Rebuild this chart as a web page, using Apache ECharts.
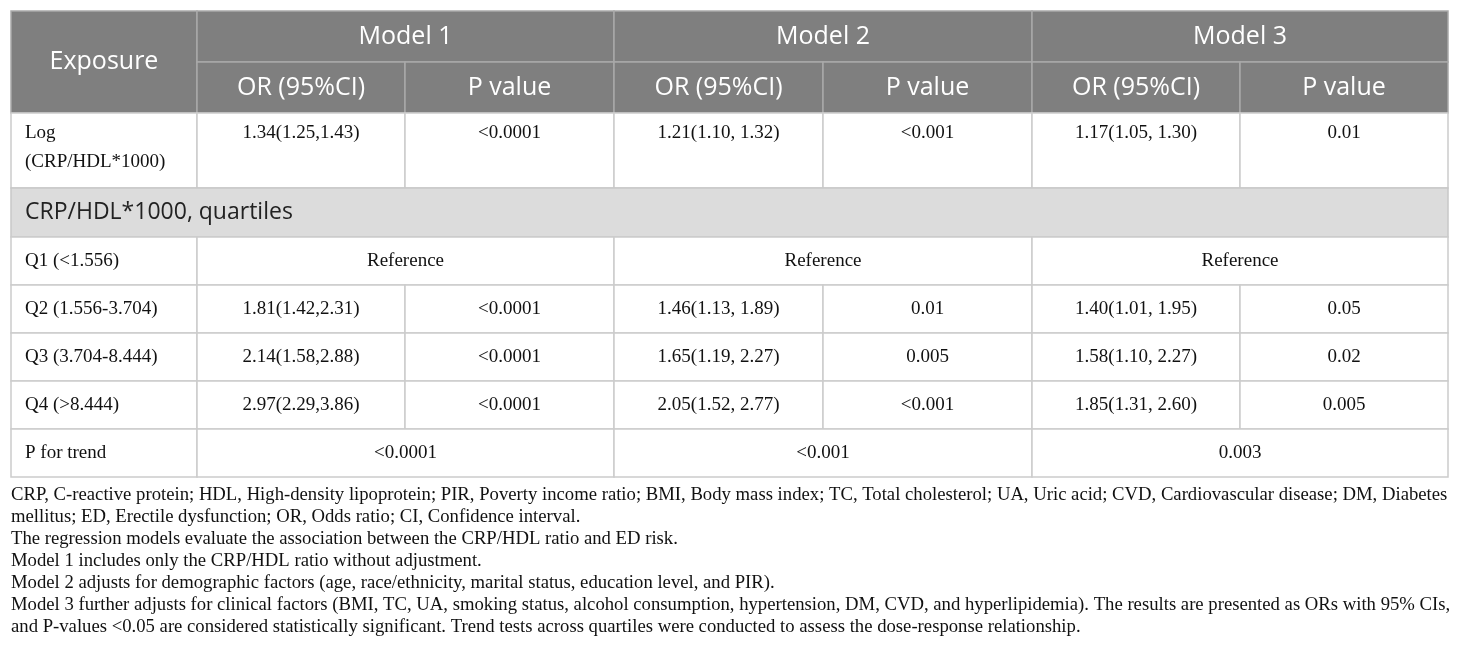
<!DOCTYPE html>
<html>
<head>
<meta charset="utf-8">
<script src="https://cdn.jsdelivr.net/npm/echarts@6/dist/echarts.min.js"></script>
<style>html,body{margin:0;padding:0;background:#fff;}#c{width:1460px;height:664px;}</style>
</head>
<body>
<div id="c"></div>
<script>
// ---------- DATA ----------
const exposureHeader = 'Exposure';
const models = ['Model 1', 'Model 2', 'Model 3'];
const subHeaders = ['OR (95%CI)', 'P value'];
const logLabel = 'Log\n(CRP/HDL*1000)';
const logOR = ['1.34(1.25,1.43)', '1.21(1.10, 1.32)', '1.17(1.05, 1.30)'];
const logP = ['<0.0001', '<0.001', '0.01'];
const sectionTitle = 'CRP/HDL*1000, quartiles';
const quartileLabels = ['Q1 (<1.556)', 'Q2 (1.556-3.704)', 'Q3 (3.704-8.444)', 'Q4 (>8.444)'];
const referenceText = 'Reference';
const quartileOR = [
  ['1.81(1.42,2.31)', '2.14(1.58,2.88)', '2.97(2.29,3.86)'],
  ['1.46(1.13, 1.89)', '1.65(1.19, 2.27)', '2.05(1.52, 2.77)'],
  ['1.40(1.01, 1.95)', '1.58(1.10, 2.27)', '1.85(1.31, 2.60)']
];
const quartileP = [
  ['<0.0001', '<0.0001', '<0.0001'],
  ['0.01', '0.005', '<0.001'],
  ['0.05', '0.02', '0.005']
];
const trendLabel = 'P for trend';
const trendP = ['<0.0001', '<0.001', '0.003'];
const footnotes = [
  'CRP, C-reactive protein; HDL, High-density lipoprotein; PIR, Poverty income ratio; BMI, Body mass index; TC, Total cholesterol; UA, Uric acid; CVD, Cardiovascular disease; DM, Diabetes',
  'mellitus; ED, Erectile dysfunction; OR, Odds ratio; CI, Confidence interval.',
  'The regression models evaluate the association between the CRP/HDL ratio and ED risk.',
  'Model 1 includes only the CRP/HDL ratio without adjustment.',
  'Model 2 adjusts for demographic factors (age, race/ethnicity, marital status, education level, and PIR).',
  'Model 3 further adjusts for clinical factors (BMI, TC, UA, smoking status, alcohol consumption, hypertension, DM, CVD, and hyperlipidemia). The results are presented as ORs with 95% CIs,',
  'and P-values <0.05 are considered statistically significant. Trend tests across quartiles were conducted to assess the dose-response relationship.'
];

// ---------- LAYOUT (relative weights) ----------
const colWeights = [186, 208, 209, 209, 209, 208, 208];
const rowWeights = [51, 51, 75, 49, 48, 48, 48, 48, 48];
const colEdges = [0]; colWeights.forEach(w => colEdges.push(colEdges[colEdges.length - 1] + w));
const rowEdges = [0]; rowWeights.forEach(w => rowEdges.push(rowEdges[rowEdges.length - 1] + w));

const SANS = '"Open Sans", "Noto Sans", sans-serif';
const SERIF = '"Liberation Serif", "Times New Roman", serif';

// ---------- BUILD CELLS ----------
const cells = [];
function addCell(c0, c1, r0, r1, text, kind, align, valign) {
  cells.push({ c0, c1, r0, r1, text, kind, align: align || 'center', valign: valign || 'middle' });
}
addCell(0, 1, 0, 2, exposureHeader, 'head');
models.forEach((m, k) => {
  addCell(1 + 2 * k, 3 + 2 * k, 0, 1, m, 'head');
  subHeaders.forEach((s, j) => addCell(1 + 2 * k + j, 2 + 2 * k + j, 1, 2, s, 'head'));
});
addCell(0, 1, 2, 3, logLabel, 'body', 'left', 'top');
models.forEach((m, k) => {
  addCell(1 + 2 * k, 2 + 2 * k, 2, 3, logOR[k], 'body', 'center', 'top');
  addCell(2 + 2 * k, 3 + 2 * k, 2, 3, logP[k], 'body', 'center', 'top');
});
addCell(0, 7, 3, 4, sectionTitle, 'section', 'left');
quartileLabels.forEach((q, i) => {
  const r = 4 + i;
  addCell(0, 1, r, r + 1, q, 'body', 'left');
  models.forEach((m, k) => {
    if (i === 0) {
      addCell(1 + 2 * k, 3 + 2 * k, r, r + 1, referenceText, 'body');
    } else {
      addCell(1 + 2 * k, 2 + 2 * k, r, r + 1, quartileOR[k][i - 1], 'body');
      addCell(2 + 2 * k, 3 + 2 * k, r, r + 1, quartileP[k][i - 1], 'body');
    }
  });
});
addCell(0, 1, 8, 9, trendLabel, 'body', 'left');
models.forEach((m, k) => addCell(1 + 2 * k, 3 + 2 * k, 8, 9, trendP[k], 'body'));

const seriesData = cells.map(c => [colEdges[c.c0], rowEdges[c.r0], colEdges[c.c1], rowEdges[c.r1]]);

const styles = {
  head: { fill: '#7f7f7f', stroke: '#a9a9a9', color: '#ffffff', font: SANS, size: 25 },
  section: { fill: '#dcdcdc', stroke: '#c8c8c8', color: '#222222', font: SANS, size: 23 },
  body: { fill: '#ffffff', stroke: '#cccccc', color: '#111111', font: SERIF, size: 19 }
};

function renderItem(params, api) {
  const c = cells[params.dataIndex];
  const st = styles[c.kind];
  const p0 = api.coord([api.value(0), api.value(1)]);
  const p1 = api.coord([api.value(2), api.value(3)]);
  const w = p1[0] - p0[0], h = p1[1] - p0[1];
  let tx, ty;
  if (c.align === 'left') tx = p0[0] + 14; else tx = p0[0] + w / 2;
  if (c.valign === 'top') ty = p0[1] + 6; else ty = p0[1] + h / 2;
  return {
    type: 'group',
    children: [
      { type: 'rect', shape: { x: p0[0], y: p0[1], width: w, height: h },
        style: { fill: st.fill, stroke: st.stroke, lineWidth: 1.5 } },
      { type: 'text', style: { text: c.text, x: tx, y: ty, align: c.align,
          verticalAlign: c.valign, fontFamily: st.font, fontSize: st.size,
          lineHeight: c.valign === 'top' ? 29 : st.size * 1.3, fill: st.color } }
    ]
  };
}

const chart = echarts.init(document.getElementById('c'), null, { renderer: 'canvas' });
chart.setOption({
  animation: false,
  backgroundColor: '#ffffff',
  grid: { left: 11, right: 12, top: 11, height: 466, containLabel: false },
  xAxis: { type: 'value', min: 0, max: colEdges[colEdges.length - 1], show: false },
  yAxis: { type: 'value', min: 0, max: rowEdges[rowEdges.length - 1], inverse: true, show: false },
  series: [{
    type: 'custom',
    renderItem: renderItem,
    data: seriesData,
    encode: { x: [0, 2], y: [1, 3] },
    clip: false
  }],
  graphic: [{
    type: 'text', left: 11, top: 484,
    style: { text: footnotes.join('\n'), fontFamily: SERIF, fontSize: 18.7, lineHeight: 22, fill: '#111111' }
  }]
});
</script>
</body>
</html>
